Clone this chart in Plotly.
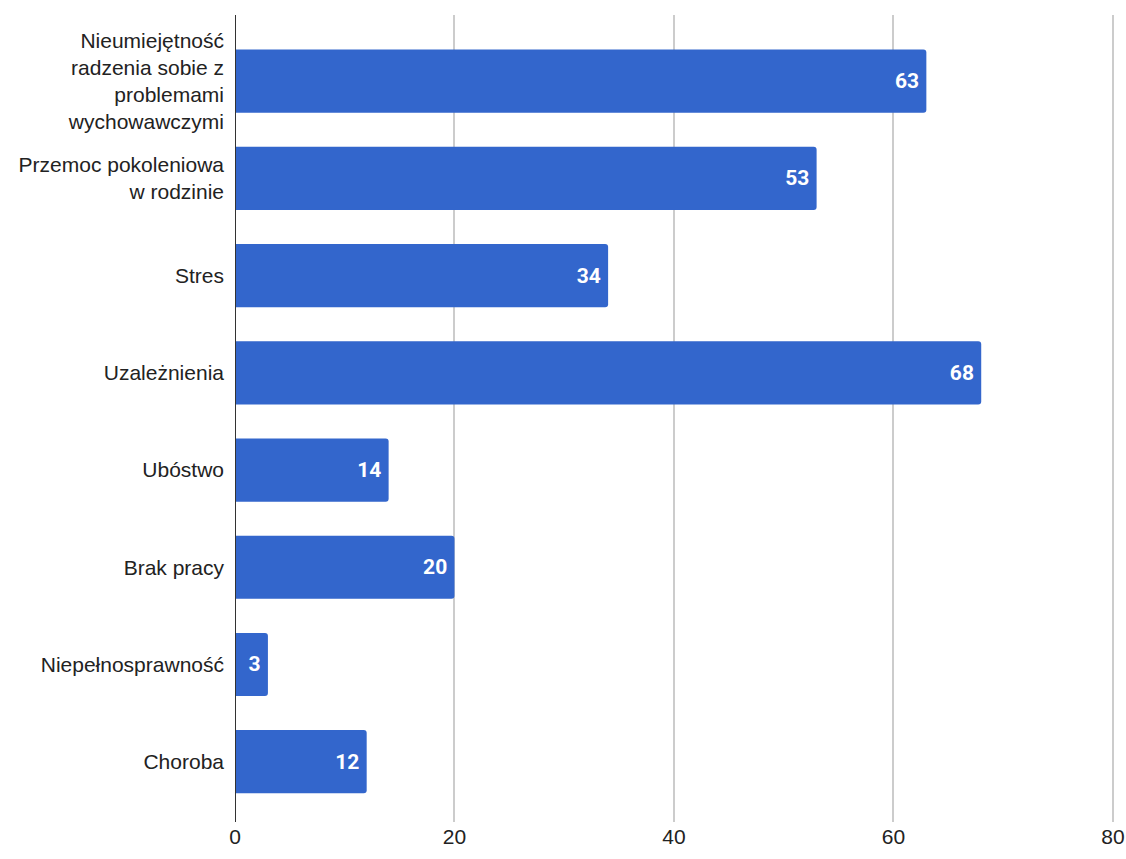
import plotly.graph_objects as go

categories = [
    "Nieumiejętność<br>radzenia sobie z<br>problemami<br>wychowawczymi",
    "Przemoc pokoleniowa<br>w rodzinie",
    "Stres",
    "Uzależnienia",
    "Ubóstwo",
    "Brak pracy",
    "Niepełnosprawność",
    "Choroba",
]
values = [63, 53, 34, 68, 14, 20, 3, 12]
x_ticks = [0, 20, 40, 60, 80]

fig = go.Figure(go.Bar(
    x=values,
    y=categories,
    orientation="h",
    marker=dict(color="#3366CC", line=dict(width=0)),
    text=[str(v) + "\u2009" for v in values],
    textposition="inside",
    insidetextanchor="end",
    textfont=dict(family="Roboto", size=21, color="white", weight="bold"),
    cliponaxis=False,
))

fig.update_layout(
    width=1126, height=859,
    margin=dict(l=235, r=12, t=15, b=37, autoexpand=False),
    paper_bgcolor="white", plot_bgcolor="white",
    bargap=0.35,
    barcornerradius=3,
    showlegend=False,
    font=dict(family="Arial", size=21, color="#222222"),
    uniformtext=dict(mode="show", minsize=21),
)
fig.update_xaxes(
    range=[0, 80.1], tickvals=x_ticks, ticktext=[str(t) for t in x_ticks],
    showgrid=True, gridcolor="#cccccc", gridwidth=2,
    zeroline=False, showline=False, ticks="", automargin=False,
    tickfont=dict(family="Arial", size=21, color="#222222"),
)
fig.update_yaxes(
    type="category", range=[7.62, -0.68],
    showgrid=False, zeroline=False, ticks="", automargin=False,
    showline=False, ticklabelstandoff=10,
    tickfont=dict(family="Arial", size=21, color="#222222"),
)
fig.add_shape(type="line", xref="x", yref="paper", x0=0, x1=0, y0=0, y1=1,
              line=dict(color="#333333", width=2), layer="above")

fig.write_html(
    "out.html",
    config={"displayModeBar": False},
    post_script="document.body.style.margin='0';document.documentElement.style.overflow='hidden';",
)
